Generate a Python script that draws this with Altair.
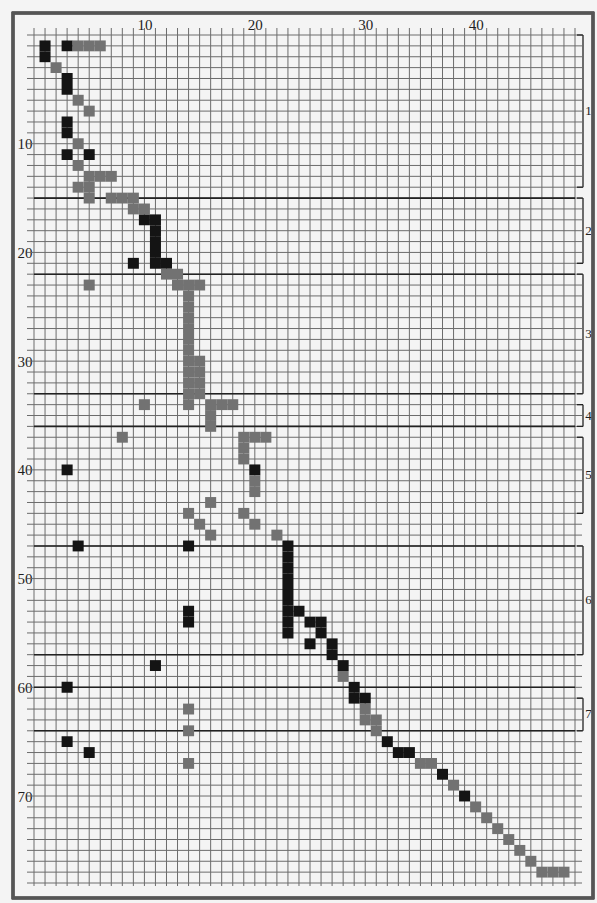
import altair as alt
import pandas as pd

N_COLS = 49   # grid lines 0..49
N_ROWS = 78   # grid lines 0..78

# black squares (column, row) — centred on grid intersections
black_col = [1, 1, 3, 3, 3, 3, 3, 3, 5, 10, 11, 11, 11, 11, 9, 11, 12,
             3, 20, 4, 14, 23, 23, 23, 23, 23, 23, 23, 23, 23,
             14, 14, 24, 25, 26, 26, 25, 27, 27, 28, 11, 3, 29, 29, 30,
             3, 5, 32, 33, 34, 37, 39]
black_row = [1, 2, 1, 4, 5, 8, 9, 11, 11, 17, 17, 18, 19, 20, 21, 21, 21,
             40, 40, 47, 47, 47, 48, 49, 50, 51, 52, 53, 54, 55,
             53, 54, 53, 54, 54, 55, 56, 56, 57, 58, 58, 60, 60, 61, 61,
             65, 66, 65, 66, 66, 68, 70]

# gray squares (column, row)
gray_col = [4, 5, 6, 2, 4, 5, 4, 4, 5, 6, 7, 4, 5, 5, 7, 8, 9, 9, 10,
            12, 13, 5, 13, 14, 15, 14, 14, 14, 14, 14, 14, 14, 14, 14, 14,
            15, 15, 15, 15, 10, 14, 16, 17, 18, 16, 16, 8, 19, 20, 21, 19, 19,
            20, 20, 16, 14, 19, 15, 20, 16, 22,
            28, 30, 30, 31, 31, 35, 36, 38, 40, 41, 42, 43, 44, 45, 46, 47, 48,
            14, 14, 14]
gray_row = [1, 1, 1, 3, 6, 7, 10, 12, 13, 13, 13, 14, 14, 15, 15, 15, 15, 16, 16,
            22, 22, 23, 23, 23, 23, 24, 25, 26, 27, 28, 29, 30, 31, 32, 33,
            30, 31, 32, 33, 34, 34, 34, 34, 34, 35, 36, 37, 37, 37, 37, 38, 39,
            41, 42, 43, 44, 44, 45, 45, 46, 46,
            59, 62, 63, 63, 64, 67, 67, 69, 71, 72, 73, 74, 75, 76, 77, 77, 77,
            62, 64, 67]

section_names = ["1", "2", "3", "4", "5", "6", "7"]
section_start = [0, 15, 22, 34, 37, 47, 61]
section_end = [14, 21, 33, 36, 44, 57, 64]
heavy_lines = [15, 22, 33, 36, 47, 57, 60, 64]

W = 541
H = 848

xs = alt.Scale(domain=[0, N_COLS], nice=False, zero=False)
ys = alt.Scale(domain=[0, N_ROWS], nice=False, zero=False, reverse=True)

SERIF = "Liberation Serif"
x_axis = alt.Axis(orient="top", values=[10, 20, 30, 40], ticks=False, domain=False, grid=False,
                  title=None, labelFont=SERIF, labelFontSize=15, labelColor="#1e1e1e",
                  labelPadding=3)
y_axis = alt.Axis(orient="left", values=[10, 20, 30, 40, 50, 60, 70], ticks=False, domain=False,
                  grid=False, title=None, labelFont=SERIF, labelFontSize=15, labelColor="#1e1e1e",
                  labelPadding=2)

vlines = pd.DataFrame({"x": list(range(N_COLS + 1))})
hlines = pd.DataFrame({"y": list(range(N_ROWS + 1))})
heavy = pd.DataFrame({"y": heavy_lines})

cells = pd.DataFrame({
    "c": black_col + gray_col,
    "r": black_row + gray_row,
    "kind": ["black"] * len(black_col) + ["gray"] * len(gray_col),
})

sections = pd.DataFrame({"name": section_names, "s": section_start, "e": section_end})

GRID = "#6c6c6c"
v_layer = alt.Chart(vlines).mark_rule(color=GRID, strokeWidth=1).encode(
    x=alt.X("x:Q", scale=xs, axis=x_axis), y=alt.value(-7), y2=alt.value(H + 3))
h_layer = alt.Chart(hlines).mark_rule(color=GRID, strokeWidth=1).encode(
    y=alt.Y("y:Q", scale=ys, axis=y_axis), x=alt.value(-7), x2=alt.value(W + 7))
heavy_layer = alt.Chart(heavy).mark_rule(color="#222222", strokeWidth=1.6).encode(
    y=alt.Y("y:Q", scale=ys, axis=y_axis), x=alt.value(0), x2=alt.value(W))

cell_layer = alt.Chart(cells).transform_calculate(
    c0="datum.c - 0.5", c1="datum.c + 0.5", r0="datum.r - 0.5", r1="datum.r + 0.5"
).mark_rect().encode(
    x=alt.X("c0:Q", scale=xs, axis=x_axis), x2="c1:Q",
    y=alt.Y("r0:Q", scale=ys, axis=y_axis), y2="r1:Q",
    color=alt.Color("kind:N", scale=alt.Scale(domain=["black", "gray"], range=["#141414", "#727272"]),
                    legend=None),
)

sec = alt.Chart(sections).transform_calculate(ym="(datum.s + datum.e) / 2")
br_v = sec.mark_rule(color="#222", strokeWidth=1.3).encode(
    x=alt.value(W + 8), y=alt.Y("s:Q", scale=ys, axis=y_axis), y2="e:Q")
br_t = sec.mark_rule(color="#222", strokeWidth=1.3).encode(
    x=alt.value(W + 2), x2=alt.value(W + 8), y=alt.Y("s:Q", scale=ys, axis=y_axis))
br_b = sec.mark_rule(color="#222", strokeWidth=1.3).encode(
    x=alt.value(W + 2), x2=alt.value(W + 8), y=alt.Y("e:Q", scale=ys, axis=y_axis))
br_lab = sec.mark_text(font=SERIF, fontSize=13, color="#222", align="center", baseline="middle").encode(
    x=alt.value(W + 13.5), y=alt.Y("ym:Q", scale=ys, axis=y_axis), text="name:N")

frame = alt.Chart(sections).mark_rect(fill=None, stroke="#555", strokeWidth=2.5).encode(
    x=alt.value(-21), x2=alt.value(W + 18), y=alt.value(-22), y2=alt.value(H + 15))

chart = alt.layer(v_layer, h_layer, heavy_layer, cell_layer, br_v, br_t, br_b, br_lab, frame).properties(
    width=W, height=H, padding={"left": 34, "top": 35, "right": 22, "bottom": 20},
    autosize=alt.AutoSizeParams(type="none"),
    background="#f4f4f4",
).configure_view(stroke=None)

chart.save("out.html", embed_options={"renderer": "svg", "actions": False})
